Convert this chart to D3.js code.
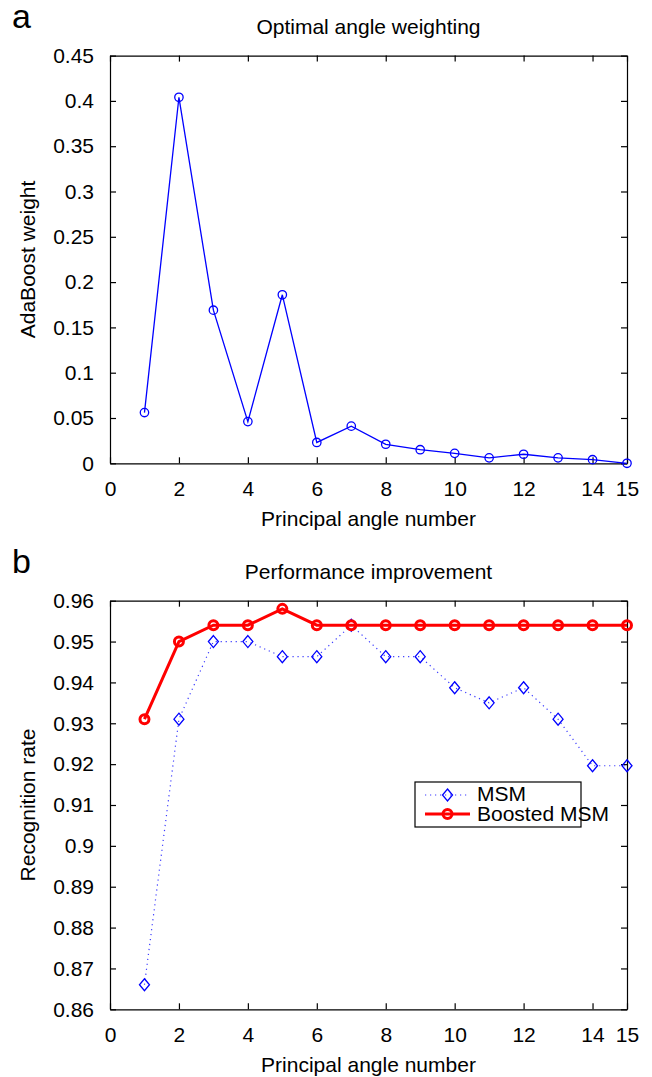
<!DOCTYPE html>
<html lang="en">
<head>
<meta charset="utf-8" />
<title>Principal angle weighting</title>
<script src="https://cdn.jsdelivr.net/npm/d3@7/dist/d3.min.js"></script>
<style>
  body { margin: 0; background: #fff; }
  svg text { font-family: "Liberation Sans", Arial, sans-serif; fill: #000; }
</style>
</head>
<body>
<div id="chart"></div>
<script>
// ---- data ----
var angleNumbers = [1, 2, 3, 4, 5, 6, 7, 8, 9, 10, 11, 12, 13, 14, 15];
var adaBoostWeight = [0.056, 0.404, 0.169, 0.046, 0.186, 0.023, 0.041, 0.021, 0.015, 0.011, 0.006, 0.010, 0.006, 0.004, 0.0];
var msmRate = [0.866, 0.931, 0.950, 0.950, 0.9463, 0.9463, 0.954, 0.9463, 0.9463, 0.9387, 0.935, 0.9387, 0.931, 0.9196, 0.9196];
var boostedRate = [0.931, 0.950, 0.954, 0.954, 0.958, 0.954, 0.954, 0.954, 0.954, 0.954, 0.954, 0.954, 0.954, 0.954, 0.954];
var xTicks = [0, 2, 4, 6, 8, 10, 12, 14, 15];
var yTicksTop = [0, 0.05, 0.1, 0.15, 0.2, 0.25, 0.3, 0.35, 0.4, 0.45];
var yTicksBottom = [0.86, 0.87, 0.88, 0.89, 0.9, 0.91, 0.92, 0.93, 0.94, 0.95, 0.96];
var legendNames = ["MSM", "Boosted MSM"];

var W = 652, H = 1077;
var left = 110, right = 627;
var fontSize = 21;

var svg = d3.select("#chart").append("svg")
    .attr("width", W)
    .attr("height", H);

var fmt = function(d) { return String(+d.toFixed(2)); };

// draws a boxed matlab-style axes, returns the scales
function makeAxes(top, bottom, yDomain, yTicks, title, ylabel, panel) {
  var x = d3.scaleLinear().domain([0, 15]).range([left, right]);
  var y = d3.scaleLinear().domain(yDomain).range([bottom, top]);

  var gx = svg.append("g")
      .attr("transform", "translate(0," + bottom + ")")
      .call(d3.axisBottom(x).tickValues(xTicks).tickFormat(fmt)
            .tickSizeInner(-6).tickSizeOuter(0).tickPadding(18));
  var gy = svg.append("g")
      .attr("transform", "translate(" + left + ",0)")
      .call(d3.axisLeft(y).tickValues(yTicks).tickFormat(fmt)
            .tickSizeInner(-6).tickSizeOuter(0).tickPadding(16));
  var gt = svg.append("g")
      .attr("transform", "translate(0," + top + ")")
      .call(d3.axisTop(x).tickValues(xTicks).tickFormat("")
            .tickSizeInner(-6).tickSizeOuter(0));
  var gr = svg.append("g")
      .attr("transform", "translate(" + right + ",0)")
      .call(d3.axisRight(y).tickValues(yTicks).tickFormat("")
            .tickSizeInner(-6).tickSizeOuter(0));

  [gx, gy, gt, gr].forEach(function(g) {
    g.attr("font-size", fontSize)
     .attr("font-family", "Liberation Sans, Arial, sans-serif");
    g.selectAll("path, line").attr("stroke", "#000").attr("stroke-width", 1.2);
    g.selectAll("text").attr("fill", "#000");
  });

  svg.append("text")
      .attr("x", (left + right) / 2)
      .attr("y", top - 22)
      .attr("text-anchor", "middle")
      .attr("font-size", fontSize)
      .text(title);

  svg.append("text")
      .attr("x", (left + right) / 2)
      .attr("y", bottom + 63)
      .attr("text-anchor", "middle")
      .attr("font-size", fontSize)
      .text("Principal angle number");

  svg.append("text")
      .attr("transform", "translate(35," + ((top + bottom) / 2) + ") rotate(-90)")
      .attr("text-anchor", "middle")
      .attr("font-size", fontSize)
      .text(ylabel);

  svg.append("text")
      .attr("x", 12)
      .attr("y", top - 28)
      .attr("font-size", 34)
      .text(panel);

  return { x: x, y: y };
}

// ---- panel a ----
var a = makeAxes(55.6, 463.3, [0, 0.45], yTicksTop,
                 "Optimal angle weighting", "AdaBoost weight", "a");

var lineA = d3.line()
    .x(function(d, i) { return a.x(angleNumbers[i]); })
    .y(function(d) { return a.y(d); });

svg.append("path")
    .datum(adaBoostWeight)
    .attr("fill", "none")
    .attr("stroke", "#0000ff")
    .attr("stroke-width", 1.3)
    .attr("d", lineA);

svg.selectAll(".dotA")
    .data(adaBoostWeight)
  .enter().append("circle")
    .attr("cx", function(d, i) { return a.x(angleNumbers[i]); })
    .attr("cy", function(d) { return a.y(d); })
    .attr("r", 4.2)
    .attr("fill", "none")
    .attr("stroke", "#0000ff")
    .attr("stroke-width", 1.3);

// ---- panel b ----
var b = makeAxes(600.7, 1009.3, [0.86, 0.96], yTicksBottom,
                 "Performance improvement", "Recognition rate", "b");

var lineB = d3.line()
    .x(function(d, i) { return b.x(angleNumbers[i]); })
    .y(function(d) { return b.y(d); });

var diamond = function(cx, cy) {
  return "M" + cx + "," + (cy - 6) + "L" + (cx + 5) + "," + cy +
         "L" + cx + "," + (cy + 6) + "L" + (cx - 5) + "," + cy + "Z";
};

svg.append("path")
    .datum(msmRate)
    .attr("fill", "none")
    .attr("stroke", "#3b3bff")
    .attr("stroke-width", 1.2)
    .attr("stroke-dasharray", "1.2,3.8")
    .attr("d", lineB);

svg.selectAll(".msm")
    .data(msmRate)
  .enter().append("path")
    .attr("d", function(d, i) { return diamond(b.x(angleNumbers[i]), b.y(d)); })
    .attr("fill", "none")
    .attr("stroke", "#0000ff")
    .attr("stroke-width", 1.3);

svg.append("path")
    .datum(boostedRate)
    .attr("fill", "none")
    .attr("stroke", "#ff0000")
    .attr("stroke-width", 3)
    .attr("d", lineB);

svg.selectAll(".boost")
    .data(boostedRate)
  .enter().append("circle")
    .attr("cx", function(d, i) { return b.x(angleNumbers[i]); })
    .attr("cy", function(d) { return b.y(d); })
    .attr("r", 4.5)
    .attr("fill", "none")
    .attr("stroke", "#ff0000")
    .attr("stroke-width", 3);

// legend
var lg = svg.append("g").attr("transform", "translate(415,782)");
lg.append("rect")
    .attr("width", 166)
    .attr("height", 45)
    .attr("fill", "#fff")
    .attr("stroke", "#000")
    .attr("stroke-width", 1.2);

lg.append("line")
    .attr("x1", 10).attr("x2", 55).attr("y1", 13).attr("y2", 13)
    .attr("stroke", "#3b3bff").attr("stroke-width", 1.2)
    .attr("stroke-dasharray", "1.2,3.8");
lg.append("path")
    .attr("d", diamond(32.5, 13))
    .attr("fill", "none").attr("stroke", "#0000ff").attr("stroke-width", 1.3);
lg.append("line")
    .attr("x1", 10).attr("x2", 55).attr("y1", 32).attr("y2", 32)
    .attr("stroke", "#ff0000").attr("stroke-width", 3);
lg.append("circle")
    .attr("cx", 32.5).attr("cy", 32).attr("r", 4.5)
    .attr("fill", "none").attr("stroke", "#ff0000").attr("stroke-width", 3);

lg.selectAll(".lt")
    .data(legendNames)
  .enter().append("text")
    .attr("x", 62)
    .attr("y", function(d, i) { return 19 + i * 19.5; })
    .attr("font-size", fontSize)
    .text(function(d) { return d; });
</script>
</body>
</html>
